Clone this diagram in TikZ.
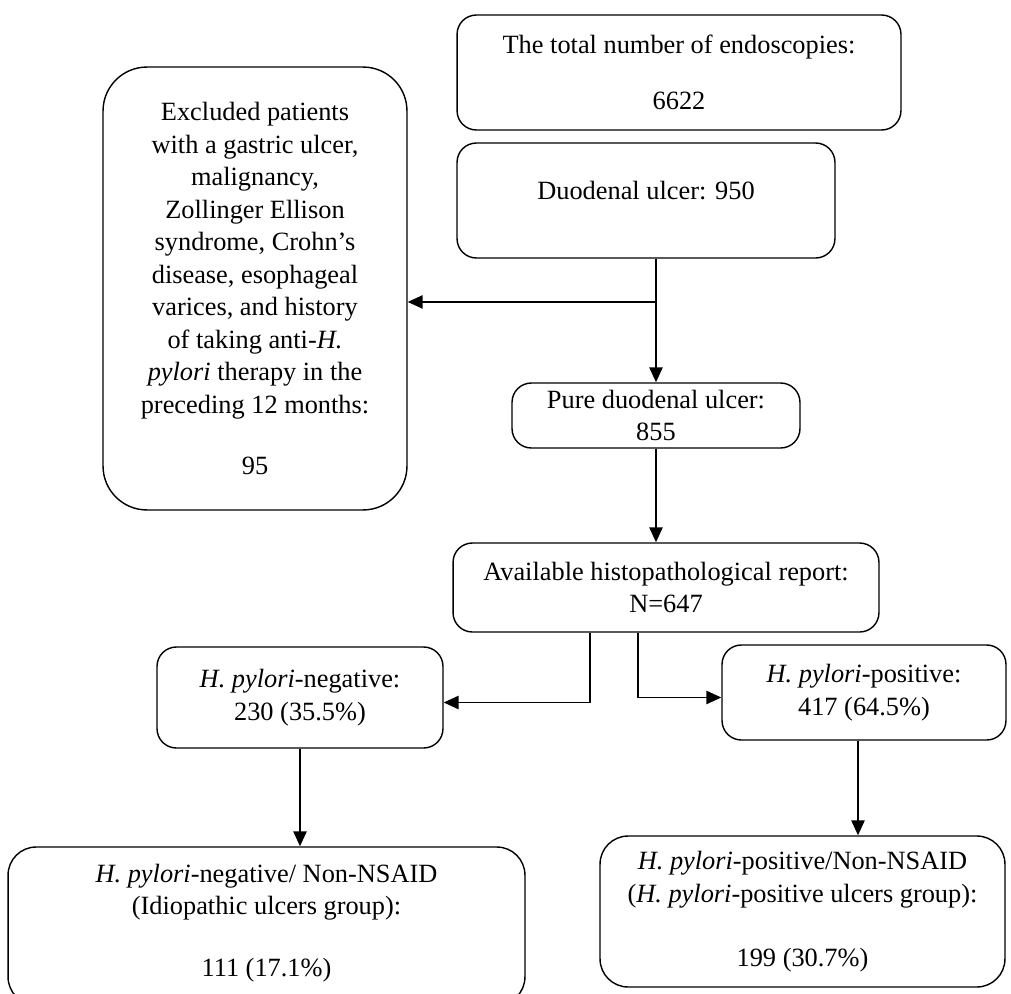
\documentclass[tikz,border=0pt]{standalone}
\usepackage{fontspec}
\setmainfont{Liberation Serif}
\usetikzlibrary{arrows.meta,calc}

\begin{document}
\begin{tikzpicture}[
    x=0.02cm, y=-0.02cm,
    box/.style={rectangle,rounded corners=11pt,draw=black,line width=0.8pt,
                font=\fontsize{15}{18.5}\selectfont,align=center,inner sep=0pt},
    ar/.style={-{Triangle[length=8.5pt,width=7.5pt]},line width=1.1pt}
  ]
  \useasboundingbox (0,0) rectangle (1011,994);
  \clip (0,0) rectangle (1011,994);

  \node[box,minimum width=8.88cm,minimum height=2.30cm] (total) at (679,72.5)
    {The total number of endoscopies:\\[13.5pt] 6622};
  \node[box,minimum width=7.56cm,minimum height=2.30cm] (duo) at (646,200.5)
    {Duodenal ulcer: 950\\[-7pt]};
  \node[box,rounded corners=25pt,minimum width=6.08cm,minimum height=8.86cm] (excl) at (255,288.5)
    {Excluded patients\\ with a gastric ulcer,\\ malignancy,\\ Zollinger Ellison\\ syndrome, Crohn's\\
     disease, esophageal\\ varices, and history\\ of taking anti-\textit{H.}\\
     \textit{pylori} therapy in the\\ preceding 12 months:\\[16pt] 95};
  \node[box,minimum width=5.76cm,minimum height=1.30cm] (pure) at (656,415.5)
    {Pure duodenal ulcer:\\ 855};
  \node[box,minimum width=8.52cm,minimum height=1.78cm] (avail) at (666,587.5)
    {Available histopathological report:\\ N=647};
  \node[box,minimum width=5.72cm,minimum height=2.02cm] (neg) at (300,697.5)
    {\textit{H. pylori}-negative:\\ 230 (35.5\%)};
  \node[box,minimum width=5.68cm,minimum height=1.90cm] (pos) at (864,692.5)
    {\textit{H. pylori}-positive:\\ 417 (64.5\%)};
  \node[box,rounded corners=16pt,minimum width=10.34cm,minimum height=3.16cm] (neggrp) at (266.5,926)
    {\textit{H. pylori}-negative/ Non-NSAID\\ (Idiopathic ulcers group):\\[17pt] 111 (17.1\%)\\[-12pt]};
  \node[box,rounded corners=16pt,minimum width=8.10cm,minimum height=3.02cm] (posgrp) at (802.5,911.5)
    {\textit{H. pylori}-positive/Non-NSAID\\ (\textit{H. pylori}-positive ulcers group):\\[18pt] 199 (30.7\%)};

  \coordinate (br) at ($(pure.north |- duo.south)!0.35!(pure.north)$);
  \draw[ar] (pure.north |- duo.south) -- (pure.north);
  \draw[ar] (br) -- (br -| excl.east);
  \draw[ar] (pure.south) -- (pure.south |- avail.north);
  \draw[ar] ([xshift=-1.52cm]avail.south) |- ([yshift=-0.1cm]neg.east);
  \draw[ar] ([xshift=-0.56cm]avail.south) |- ([yshift=-0.1cm]pos.west);
  \draw[ar] (neg.south) -- (neg.south |- neggrp.north);
  \draw[ar] ([xshift=-0.12cm]pos.south) -- ([xshift=-0.12cm]pos.south |- posgrp.north);
\end{tikzpicture}
\end{document}
